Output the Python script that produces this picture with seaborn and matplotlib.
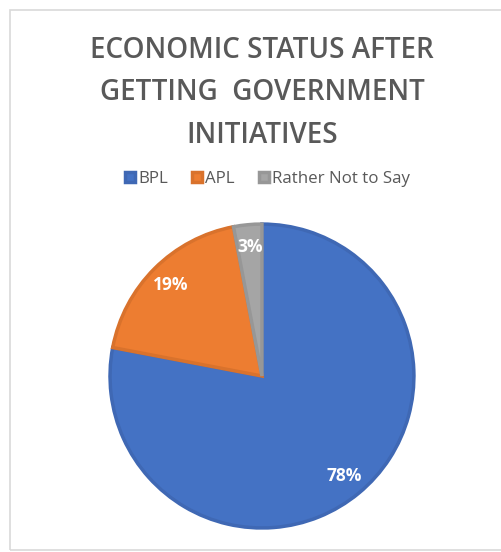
import matplotlib
matplotlib.use("Agg")
import matplotlib.pyplot as plt
import seaborn as sns
from matplotlib.patches import Rectangle

# data
labels = ["BPL", "APL", "Rather Not to Say"]
shares = [78, 19, 3]
colors = ["#4472C4", "#ED7D31", "#A5A5A5"]
edge_colors = ["#3F68B4", "#D9722C", "#979797"]

title = "ECONOMIC STATUS AFTER\nGETTING  GOVERNMENT\nINITIATIVES"

sns.set_theme(style="white")
plt.rcParams["font.family"] = ["Open Sans", "DejaVu Sans"]

fig = plt.figure(figsize=(5.02, 5.52), dpi=100)
fig.patch.set_facecolor("white")

# thin frame like the chart area border in the screenshot
fig.add_artist(Rectangle((10 / 502, 2 / 552), 1.0, 540 / 552,
                         transform=fig.transFigure, fill=False,
                         edgecolor="#D9D9D9", linewidth=1.2))

ax = fig.add_axes([0.2131, 0.0380, 0.6175, 0.5616])
wedges, texts, autotexts = ax.pie(
    shares,
    colors=colors,
    startangle=90,
    counterclock=False,
    autopct="%d%%",
    pctdistance=0.85,
    wedgeprops=dict(linewidth=2.5),
    textprops=dict(color="white", fontsize=12.5, fontweight="bold"),
)
for w, ec in zip(wedges, edge_colors):
    w.set_edgecolor(ec)
    w.set_joinstyle("miter")
ax.set_xlim(-1.02, 1.02)
ax.set_ylim(-1.02, 1.02)
ax.set_aspect("equal")
ax.axis("off")

fig.text(0.522, 1 - 93 / 552, title, ha="center", va="center",
         fontsize=20, fontweight="semibold", color="#595959",
         linespacing=1.62)

fig.legend(wedges, labels, loc="center", bbox_to_anchor=(0.533, 1 - 179 / 552),
           ncol=3, frameon=False, fontsize=12.2, labelcolor="#595959",
           handlelength=0.6, handleheight=0.6, handletextpad=0.2,
           columnspacing=1.4)

fig.savefig("out.png", dpi=100)
